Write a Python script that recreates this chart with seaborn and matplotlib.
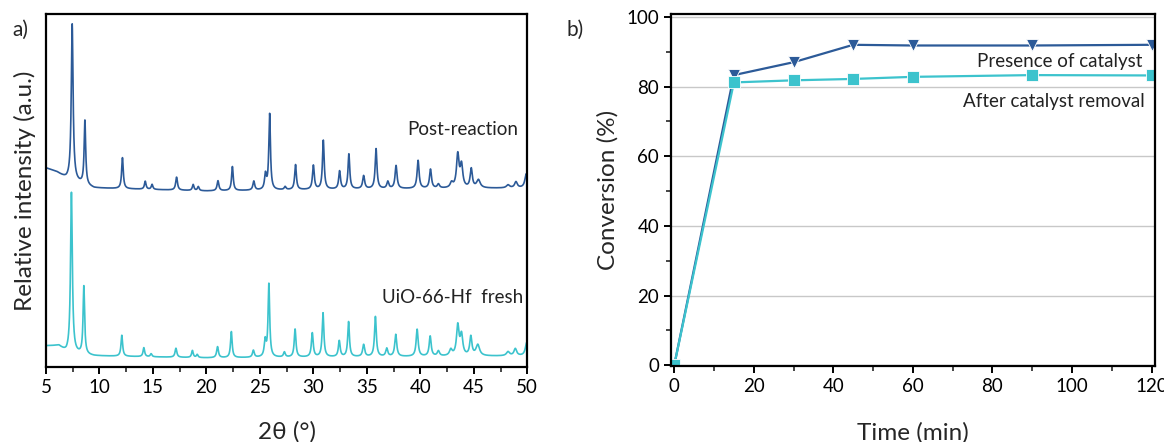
import numpy as np
import pandas as pd
import matplotlib
matplotlib.use("Agg")
import matplotlib.pyplot as plt
from matplotlib.ticker import MultipleLocator
import seaborn as sns

# ---------------- data ----------------
# (a) XRD peak tables: position (2theta, deg), height above background, FWHM (deg)
post_pos = [7.45, 8.64, 12.15, 14.28, 14.92, 17.21, 18.76, 19.24, 21.08, 22.43,
            24.43, 25.52, 25.91, 27.36, 28.33, 30.00, 30.93, 32.45, 33.32, 34.70,
            35.86, 36.96, 37.73, 39.79, 40.95, 41.69, 42.92, 43.50, 43.85, 44.76,
            45.43, 48.20, 48.94, 49.90]
post_h = [157, 64, 31, 8, 5, 13, 6, 4, 10, 24,
          9, 15, 76, 3, 25, 24, 49, 18, 35, 13,
          40, 7, 23, 28, 19, 4, 5, 33, 22, 19,
          8, 3, 6, 14]
post_w = [0.20, 0.17, 0.18, 0.18, 0.18, 0.20, 0.18, 0.18, 0.20, 0.18,
          0.20, 0.20, 0.18, 0.20, 0.19, 0.20, 0.19, 0.20, 0.19, 0.22,
          0.20, 0.22, 0.22, 0.22, 0.22, 0.25, 0.3, 0.28, 0.28, 0.24,
          0.4, 0.35, 0.3, 0.3]

fresh_pos = [7.38, 8.54, 12.09, 14.15, 14.83, 17.15, 18.69, 19.14, 21.04, 22.33,
             24.39, 25.49, 25.84, 27.29, 28.29, 29.90, 30.90, 32.42, 33.29, 34.70,
             35.80, 36.86, 37.70, 39.70, 40.92, 41.69, 42.85, 43.50, 43.85, 44.72,
             45.37, 48.20, 48.88, 49.94]
fresh_h = [161, 68, 21, 9, 3, 9, 7, 3, 11, 26,
           7, 16, 73, 5, 28, 24, 44, 16, 35, 12,
           40, 8, 22, 27, 20, 5, 6, 30, 20, 19,
           11, 4, 7, 13]
fresh_w = post_w

# background knots of each pattern
post_bg_x = [5.0, 6.0, 6.9, 9.5, 20.0, 35.0, 50.0]
post_bg_y = [199, 195, 188, 179, 176, 178, 179]
fresh_bg_x = [5.0, 6.2, 6.9, 9.5, 20.0, 35.0, 50.0]
fresh_bg_y = [21, 21, 14, 11, 9, 10, 11]

# (b) conversion vs time
time_min = [0, 15, 30, 45, 60, 90, 120]
conv_presence = [0, 83.3, 87.0, 92.0, 91.8, 91.8, 92.0]
conv_removal = [0, 81.2, 81.8, 82.2, 82.8, 83.3, 83.2]

# ---------------- style ----------------
sns.set_theme(style="ticks")
plt.rcParams["font.family"] = ["Lato", "DejaVu Sans"]
plt.rcParams["axes.linewidth"] = 1.6
plt.rcParams["xtick.major.width"] = 1.4
plt.rcParams["ytick.major.width"] = 1.4
plt.rcParams["xtick.minor.width"] = 1.2
plt.rcParams["ytick.minor.width"] = 1.2

DARK = "#2c5a98"
CYAN = "#3cc3cd"
LABEL_FS = 17.5
TICK_FS = 13.5
NOTE_FS = 13.5


def pattern(x, pos, h, w, bgx, bgy):
    """Sum of Lorentzian reflections on a piecewise-linear background."""
    y = np.interp(x, bgx, bgy)
    for p, a, f in zip(pos, h, w):
        g = f / 2.0
        y = y + a * g**2 / ((x - p) ** 2 + g**2)
    return y


two_theta = np.linspace(5, 50, 6000)
xrd = pd.concat([
    pd.DataFrame({"2theta": two_theta,
                  "I": pattern(two_theta, post_pos, post_h, post_w, post_bg_x, post_bg_y),
                  "sample": "Post-reaction"}),
    pd.DataFrame({"2theta": two_theta,
                  "I": pattern(two_theta, fresh_pos, fresh_h, fresh_w, fresh_bg_x, fresh_bg_y),
                  "sample": "UiO-66-Hf  fresh"}),
])

conv = pd.DataFrame({"time": time_min * 2,
                     "conv": conv_presence + conv_removal,
                     "series": ["Presence of catalyst"] * len(time_min)
                     + ["After catalyst removal"] * len(time_min)})

fig = plt.figure(figsize=(11.64, 4.42), dpi=100)
ax1 = fig.add_axes([0.0395, 0.170, 0.4135, 0.798])
ax2 = fig.add_axes([0.5765, 0.172, 0.4155, 0.796])

# ---------------- (a) XRD ----------------
sns.lineplot(data=xrd, x="2theta", y="I", hue="sample",
             palette={"Post-reaction": DARK, "UiO-66-Hf  fresh": CYAN},
             linewidth=1.2, legend=False, ax=ax1, sort=False)
ax1.set_xlim(5, 50)
ax1.set_ylim(0, 353)
ax1.xaxis.set_major_locator(MultipleLocator(5))
ax1.xaxis.set_minor_locator(MultipleLocator(2.5))
ax1.set_yticks([])
ax1.tick_params(axis="x", which="major", direction="out", length=5, labelsize=TICK_FS,
                colors="black", pad=4)
ax1.tick_params(axis="x", which="minor", direction="out", length=3.5)
ax1.set_xlabel("2θ (°)", fontsize=LABEL_FS, labelpad=18)
ax1.set_ylabel("Relative intensity (a.u.)", fontsize=LABEL_FS, labelpad=7)
ax1.text(49.2, 238, "Post-reaction", ha="right", va="center", fontsize=NOTE_FS, color="#222222")
ax1.text(49.6, 69, "UiO-66-Hf  fresh", ha="right", va="center", fontsize=NOTE_FS, color="#222222")
for s in ax1.spines.values():
    s.set_color("black")
fig.text(0.011, 0.932, "a)", fontsize=15, ha="left", va="center")

# ---------------- (b) conversion ----------------
sns.lineplot(data=conv, x="time", y="conv", hue="series", style="series",
             palette={"Presence of catalyst": DARK, "After catalyst removal": CYAN},
             markers={"Presence of catalyst": "v", "After catalyst removal": "s"},
             dashes=False, markersize=9, markeredgewidth=0.6, linewidth=1.6,
             legend=False, ax=ax2)
ax2.set_xlim(-0.8, 120.8)
ax2.set_ylim(-0.2, 100.8)
ax2.xaxis.set_major_locator(MultipleLocator(20))
ax2.xaxis.set_minor_locator(MultipleLocator(10))
ax2.yaxis.set_major_locator(MultipleLocator(20))
ax2.yaxis.set_minor_locator(MultipleLocator(10))
ax2.grid(axis="y", which="major", color="#c8c8c8", linewidth=1.0)
ax2.set_axisbelow(True)
ax2.tick_params(axis="both", which="major", direction="out", length=5, labelsize=TICK_FS,
                colors="black")
ax2.tick_params(axis="both", which="minor", direction="out", length=3.5)
ax2.set_xlabel("Time (min)", fontsize=LABEL_FS, labelpad=20)
ax2.set_ylabel("Conversion (%)", fontsize=LABEL_FS, labelpad=6)
ax2.text(117.8, 87.3, "Presence of catalyst", ha="right", va="center", fontsize=NOTE_FS,
         color="#222222")
ax2.text(118.2, 75.8, "After catalyst removal", ha="right", va="center", fontsize=NOTE_FS,
         color="#222222")
for s in ax2.spines.values():
    s.set_color("black")
fig.text(0.487, 0.932, "b)", fontsize=15, ha="left", va="center")

fig.savefig("out.png", dpi=100)
